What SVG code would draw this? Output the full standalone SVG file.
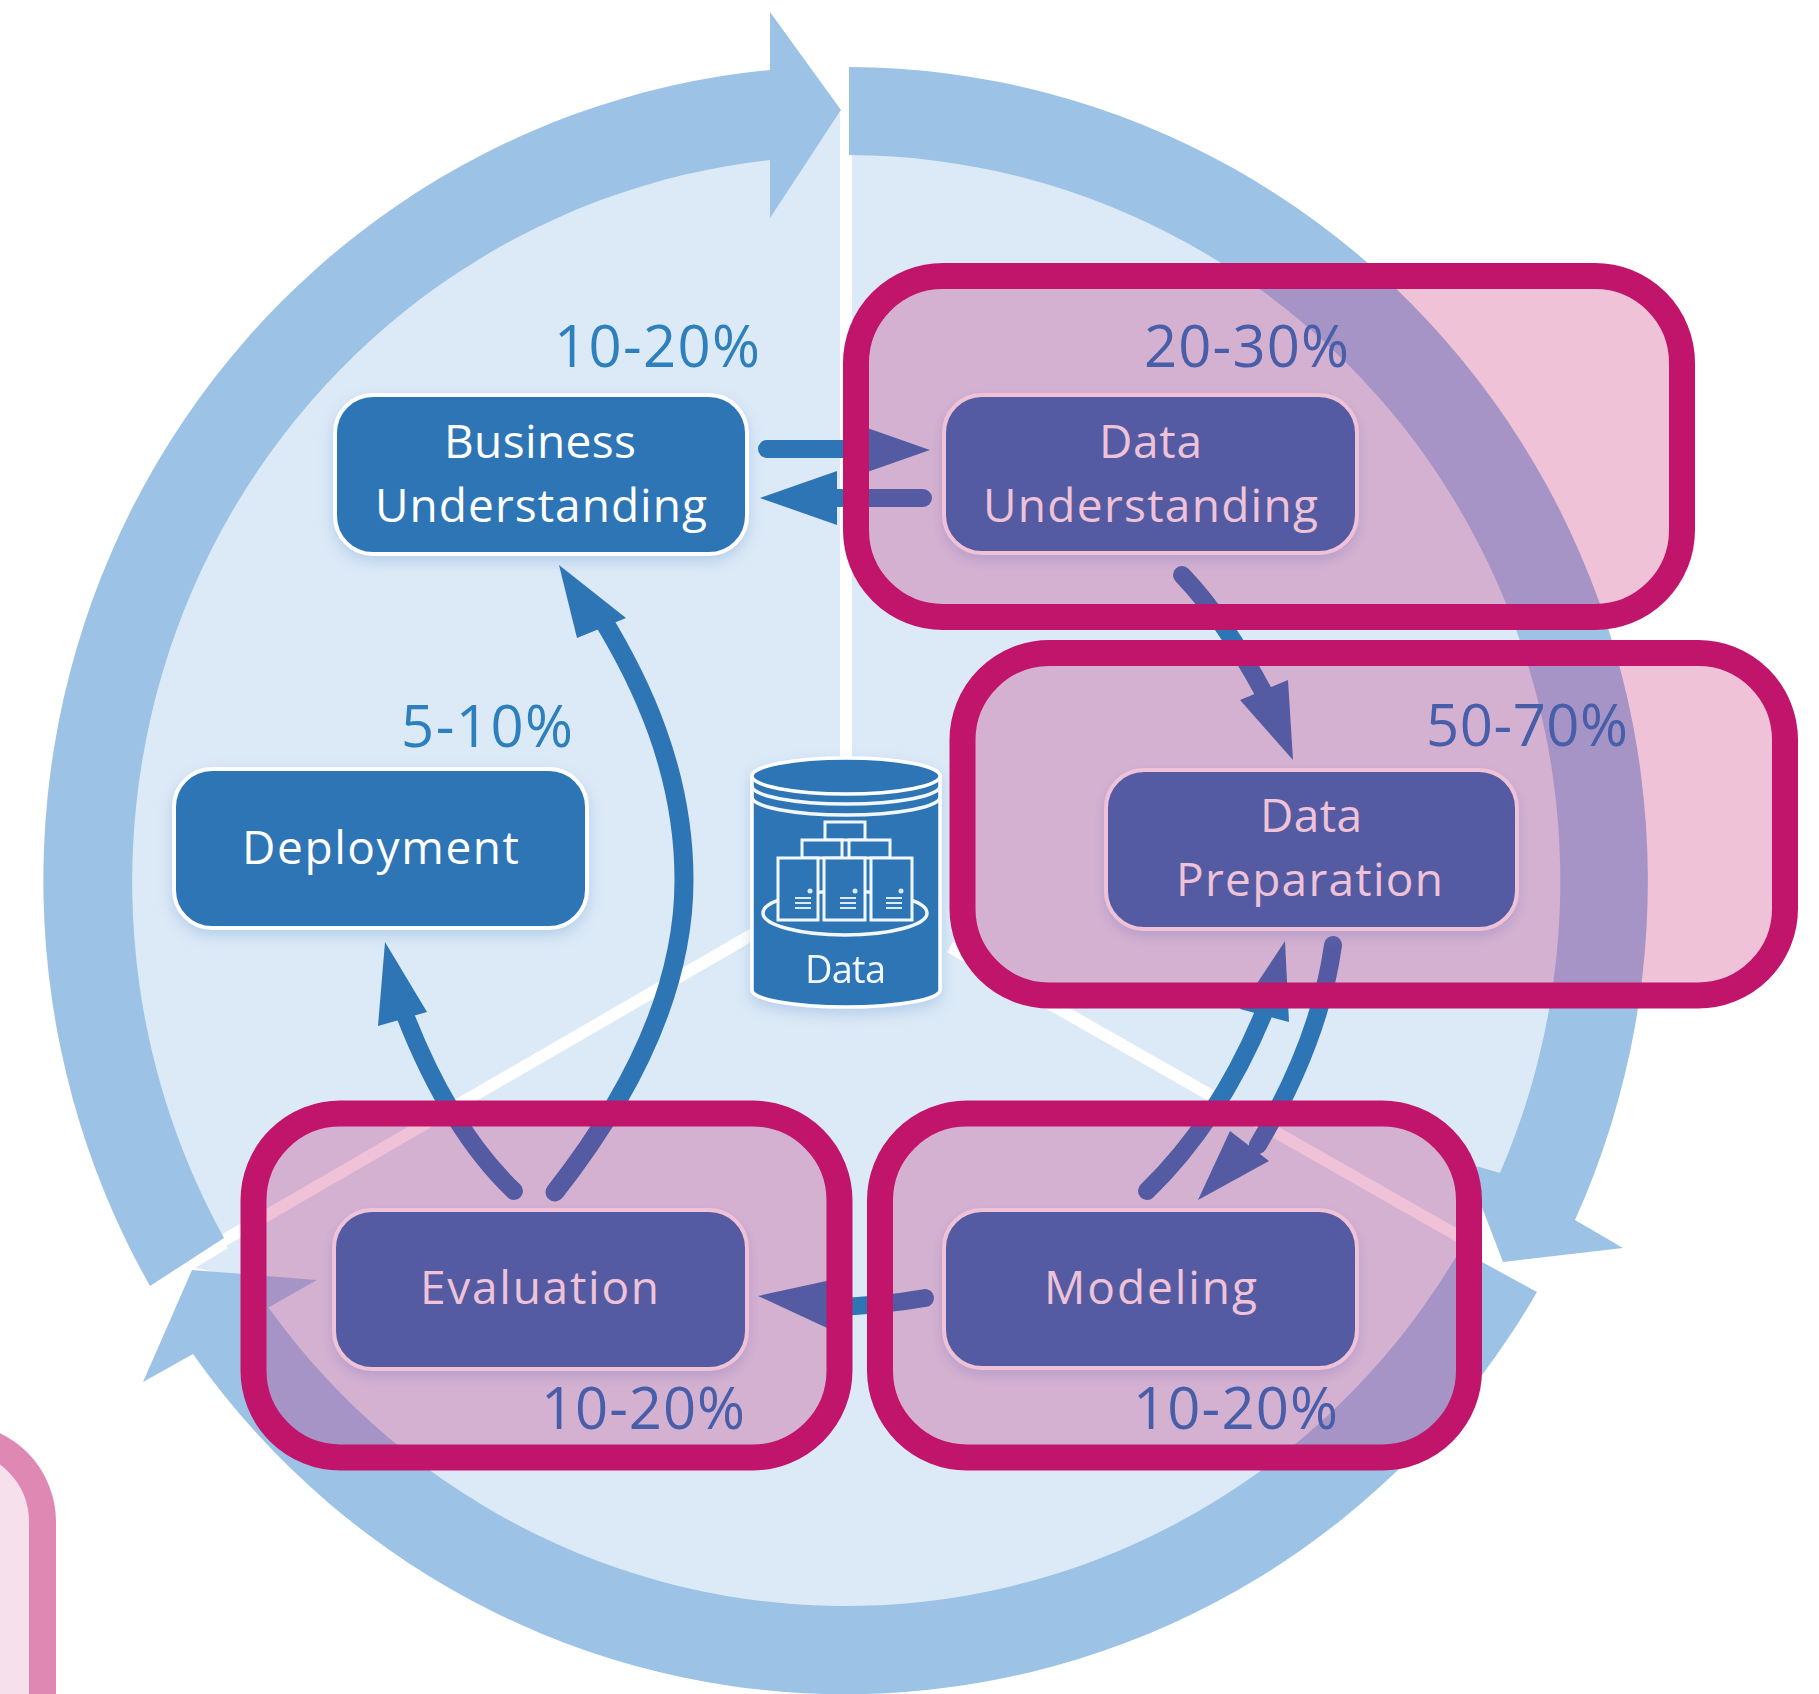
<svg xmlns="http://www.w3.org/2000/svg" width="1819" height="1694" viewBox="0 0 1819 1694">
<defs>
<filter id="sh" x="-10%" y="-10%" width="120%" height="130%"><feDropShadow dx="0" dy="6" stdDeviation="7" flood-color="#6f9fd6" flood-opacity="0.35"/></filter>
</defs>
<style>
.ring{fill:#9cc2e6}
.disc{fill:#dce9f6}
.gap{stroke:#fff;stroke-width:12;fill:none}
.box{fill:#2e75b6;stroke:#fff;stroke-width:4}
.t{font-family:"Open Sans","Noto Sans",sans-serif;font-size:46px;fill:#fff}
.p{font-family:"Open Sans","Noto Sans",sans-serif;font-size:58px;fill:#2e80bd}
.pb{fill:#1f78c0}
.line{fill:none;stroke:#2e75b6;stroke-width:18;stroke-linecap:round}
.head{fill:#2e75b6}
.hl{fill:#c0156a;fill-opacity:.26;stroke:#c0156a;stroke-width:26}
.cy{fill:#2e75b6;stroke:#fff;stroke-width:3.5}
.cl{fill:none;stroke:#f2f7fc;stroke-width:3.5}
.srv{fill:#2e75b6;stroke:#f2f7fc;stroke-width:3}
</style>
<rect width="1819" height="1694" fill="#fff"/>
<g id="page-corner"><rect x="-400" y="1437" width="442.5" height="400" rx="85" fill="#f6e0ec" stroke="#df88b4" stroke-width="27"/></g>
<g id="cycle">
<ellipse class="disc" cx="846" cy="881" rx="716" ry="728"/>
<polygon class="disc" points="195,1268 245,1238 245,1278"/>
<polygon class="disc" points="765,225 840,112 840,175"/>
<path class="gap" d="M846,112V770"/>
<path class="gap" d="M760,930L195,1257"/>
<path class="gap" d="M950,947L1490,1254"/>
<path id="ring-top-right" class="ring" d="M849,67A802,814 0 0 1 1575,1220L1623,1248L1503,1262L1465,1163L1500,1173A714,726 0 0 0 849,155Z"/>
<path id="ring-bottom" class="ring" d="M1537,1292A802,814 0 0 1 193,1354L143,1382L192,1270L317,1280L268.500,1307.500A714,726 0 0 0 1460,1250Z"/>
<path id="ring-left" class="ring" d="M150,1286A802,814 0 0 1 770,70L770,12L841,110L770,218L770,160A714,726 0 0 0 224,1238Z"/>
</g>
<g id="connectors">
<path class="line" d="M767,449H860"/><polygon class="head" points="930,450 853,423 853,477"/>
<path class="line" d="M923,498H830"/><polygon class="head" points="760,498 837,471 837,525"/>
<path class="line" d="M1182,575Q1225,620 1265,695"/><polygon class="head" points="1293,760 1240,700 1288,680"/>
<path class="line" d="M1147,1191Q1220,1120 1265,1010"/><polygon class="head" points="1285,941 1240,1009 1289,1022"/>
<path class="line" d="M1333,945Q1320,1040 1258,1145"/><polygon class="head" points="1198,1200 1230,1131 1269,1161"/>
<path class="line" d="M925,1298Q880,1306 830,1307"/><polygon class="head" points="758,1296 840,1278 840,1334"/>
<path class="line" d="M514,1191Q450,1130 405,1015"/><polygon class="head" points="385,942 378,1026 427,1012"/>
<path class="line" style="stroke-width:19" d="M555,1192C635,1090 684,985 684,880C684,770 640,680 600,615"/><polygon class="head" points="559,565 577,638 626,618"/>
</g>
<g id="data-store" filter="url(#sh)">
<path class="cy" d="M752,776V990A94,17 0 0 0 940,990V776Z"/>
<ellipse class="cy" cx="846" cy="776" rx="94" ry="18"/>
<path class="cl" d="M752,786A94,18 0 0 0 940,786M752,797A94,18 0 0 0 940,797"/>
<ellipse class="cl" cx="845" cy="913" rx="82" ry="22"/>
<rect class="srv" x="825" y="822" width="40" height="18"/>
<rect class="srv" x="802" y="840" width="40" height="18"/>
<rect class="srv" x="849" y="840" width="41" height="18"/>
<rect class="srv" x="778" y="858" width="40" height="62"/>
<rect class="srv" x="824" y="858" width="41" height="62"/>
<rect class="srv" x="871" y="858" width="41" height="62"/>
<g fill="#dce9f6"><circle cx="810" cy="891" r="2.500"/><circle cx="855" cy="891" r="2.500"/><circle cx="901" cy="891" r="2.500"/>
<rect x="795" y="897" width="16" height="2"/><rect x="795" y="902" width="16" height="2"/><rect x="795" y="907" width="16" height="2"/>
<rect x="840" y="897" width="16" height="2"/><rect x="840" y="902" width="16" height="2"/><rect x="840" y="907" width="16" height="2"/>
<rect x="886" y="897" width="16" height="2"/><rect x="886" y="902" width="16" height="2"/><rect x="886" y="907" width="16" height="2"/></g>
<text x="805" y="983" font-family="Open Sans, sans-serif" font-size="38" fill="#f2f7fc" textLength="81">Data</text>
</g>
<g id="business-understanding">
<rect class="box" filter="url(#sh)" x="335" y="395" width="412" height="159" rx="38"/>
<text class="t" x="444" y="458" textLength="192">Business</text>
<text class="t" x="375" y="522" textLength="332">Understanding</text>
<text class="p" x="554" y="367" textLength="206">10-20%</text>
</g>
<g id="data-understanding">
<rect class="box" filter="url(#sh)" x="944" y="395" width="413" height="158" rx="38"/>
<text class="t" x="1099" y="458" textLength="103">Data</text>
<text class="t" x="983" y="522" textLength="335">Understanding</text>
<text class="p pb" x="1144" y="367" textLength="205">20-30%</text>
</g>
<g id="data-preparation">
<rect class="box" filter="url(#sh)" x="1106" y="770" width="411" height="159" rx="38"/>
<text class="t" x="1260" y="832" textLength="102">Data</text>
<text class="t" x="1176" y="896" textLength="267">Preparation</text>
<text class="p pb" x="1426" y="746" textLength="202">50-70%</text>
</g>
<g id="deployment">
<rect class="box" filter="url(#sh)" x="174" y="769" width="413" height="159" rx="38"/>
<text class="t" x="242" y="864" textLength="277">Deployment</text>
<text class="p" x="401" y="747" textLength="172">5-10%</text>
</g>
<g id="evaluation">
<rect class="box" filter="url(#sh)" x="334" y="1210" width="413" height="159" rx="38"/>
<text class="t" x="420" y="1304" textLength="239">Evaluation</text>
<text class="p pb" x="541" y="1429" textLength="204">10-20%</text>
</g>
<g id="modeling">
<rect class="box" filter="url(#sh)" x="944" y="1210" width="413" height="158" rx="38"/>
<text class="t" x="1044" y="1304" textLength="213">Modeling</text>
<text class="p pb" x="1133" y="1429" textLength="205">10-20%</text>
</g>
<g id="highlights">
<rect class="hl" x="856" y="276" width="826" height="341" rx="87"/>
<rect class="hl" x="962.500" y="653" width="822.500" height="342.500" rx="87"/>
<rect class="hl" x="253.500" y="1113.500" width="586" height="344" rx="87"/>
<rect class="hl" x="880" y="1113.500" width="589" height="344" rx="87"/>
</g>
</svg>
